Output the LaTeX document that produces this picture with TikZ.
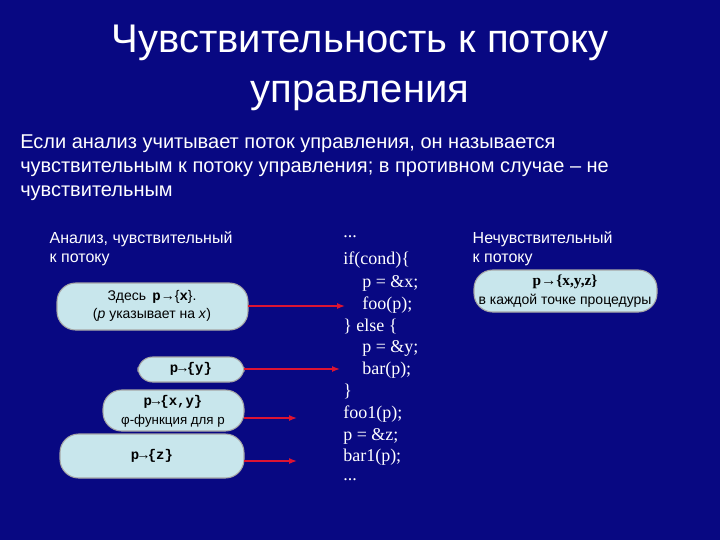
\documentclass[tikz,border=0pt]{standalone}
\usepackage{fontspec}
\setmainfont{Liberation Sans}
\newfontfamily\codefont{Liberation Serif}
\newfontfamily\monof{Liberation Mono}
\usetikzlibrary{arrows.meta}
\definecolor{bg}{RGB}{8,8,130}
\definecolor{boxfill}{RGB}{200,230,236}
\definecolor{arr}{RGB}{220,20,50}
\tikzset{
  pbox/.style={draw=gray!70, line width=0.8pt, fill=boxfill, rounded corners=14pt, text=black, align=center},
  conn/.style={arr, line width=1pt, -{Latex[length=6pt,width=4.5pt]}},
  lbl/.style={text=white, anchor=north west, align=left, font=\fontsize{12}{14.5}\selectfont},
  code/.style={text=white, anchor=west, font=\codefont\fontsize{13.5}{15}\selectfont, inner sep=0pt},
}
\begin{document}
\begin{tikzpicture}[x=0.75pt,y=-0.75pt]
\fill[bg] (0,0) rectangle (720,540);
\useasboundingbox (0,0) rectangle (720,540);
\node[text=white, align=center, font=\fontsize{30}{37}\selectfont] (title) at (360,68) {Чувствительность к потоку\\управления};
\node[text=white, anchor=north west, align=left, font=\fontsize{15}{18}\selectfont, inner sep=0pt] (para) at (20,134) {Если анализ учитывает поток управления, он называется\\чувствительным к потоку управления; в противном случае -- не\\чувствительным};
\node[lbl] (l1) at (45,227) {Анализ, чувствительный\\к потоку};
\node[lbl] (l2) at (468,227) {Нечувствительный\\к потоку};
\path[pbox] (57,283) rectangle (248,330);
\node[text=black, align=center, font=\fontsize{10.5}{14}\selectfont] (b1) at (152,306) {Здесь \,{\monof\bfseries p}→\{{\monof\bfseries x}\}.\\(\textit{p} указывает на \textit{x})};
\path[pbox, rounded corners=11pt] (138,357) rectangle (244,382);
\node[font=\monof\bfseries\fontsize{10.5}{12}\selectfont] (b2) at (191,369) {p→\{y\}};
\path[pbox] (103,390) rectangle (244,431);
\node[align=center, font=\fontsize{10}{14}\selectfont] (b3) at (173,411) {{\monof\bfseries\fontsize{10.5}{12}\selectfont p→\{x,y\}}\\φ-функция для p};
\path[pbox] (60,434) rectangle (244,478);
\node[font=\monof\bfseries\fontsize{10.5}{12}\selectfont] (b4) at (152,456) {p→\{z\}};
\path[pbox] (474,270) rectangle (657,312);
\node[align=center, font=\fontsize{10.5}{14}\selectfont] (b5) at (565,291) {{\codefont\bfseries\fontsize{11.5}{13}\selectfont p→\{x,y,z\}}\\в каждой точке процедуры};
\coordinate (e1) at (248,306); \coordinate (t1) at (345,306);
\coordinate (e2) at (244,369); \coordinate (t2) at (340,369);
\coordinate (e3) at (244,418); \coordinate (t3) at (297,418);
\coordinate (e4) at (244,461); \coordinate (t4) at (297,461);
\draw[conn] (e1) -- (t1);
\draw[conn] (e2) -- (t2);
\draw[conn] (e3) -- (t3);
\draw[conn] (e4) -- (t4);
\node[code] (c1) at (343,237) {...};
\node[code] (c2) at (343,260) {if(cond)\{};
\node[code] (c3) at (362,283) {p = \&x;};
\node[code] (c4) at (362,305) {foo(p);};
\node[code] (c5) at (343,326) {\} else \{};
\node[code] (c6) at (362,348) {p = \&y;};
\node[code] (c7) at (362,370) {bar(p);};
\node[code] (c8) at (343,391) {\}};
\node[code] (c9) at (343,414) {foo1(p);};
\node[code] (c10) at (343,436) {p = \&z;};
\node[code] (c11) at (343,457) {bar1(p);};
\node[code] (c12) at (343,480) {...};
\end{tikzpicture}
\end{document}
